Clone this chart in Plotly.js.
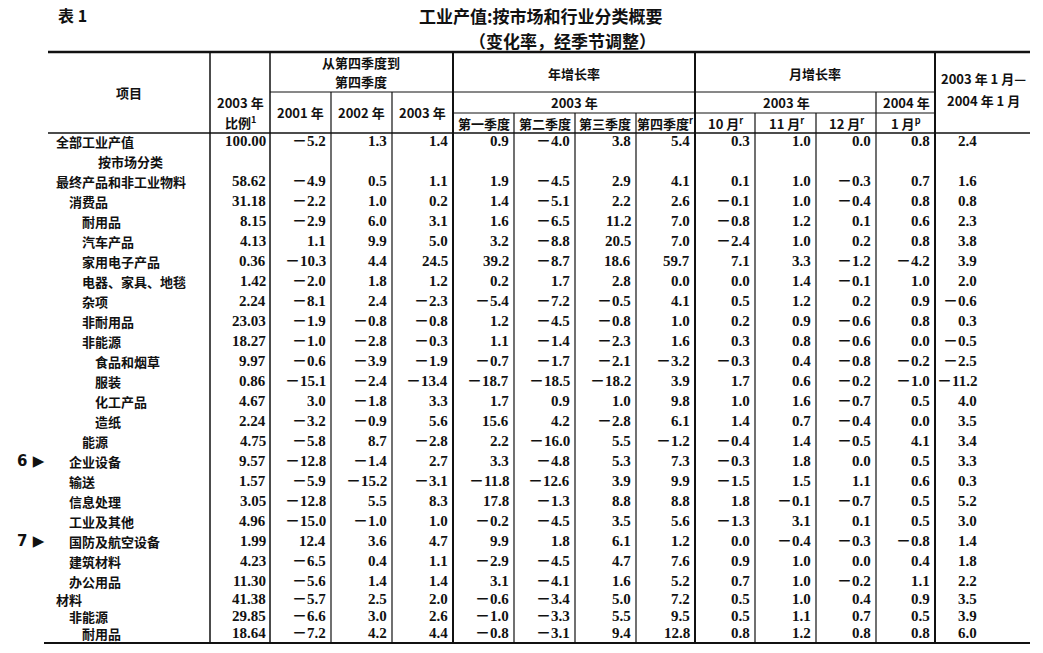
<!DOCTYPE html>
<html><head><meta charset="utf-8">
<script src="https://cdn.plot.ly/plotly-3.0.1.min.js"></script>
<style>html,body{margin:0;padding:0;background:#fff;}#chart{width:1043px;height:653px;}</style>
</head><body><div id="chart"></div>
<script>
// ---------------- DATA ----------------
const items = ["全部工业产值","按市场分类","最终产品和非工业物料","消费品","耐用品","汽车产品","家用电子产品","电器、家具、地毯","杂项","非耐用品","非能源","食品和烟草","服装","化工产品","造纸","能源","企业设备","输送","信息处理","工业及其他","国防及航空设备","建筑材料","办公用品","材料","非能源","耐用品"];
const weight2003 = [100.00,null,58.62,31.18,8.15,4.13,0.36,1.42,2.24,23.03,18.27,9.97,0.86,4.67,2.24,4.75,9.57,1.57,3.05,4.96,1.99,4.23,11.30,41.38,29.85,18.64];
const q4q4_2001 = [-5.2,null,-4.9,-2.2,-2.9,1.1,-10.3,-2.0,-8.1,-1.9,-1.0,-0.6,-15.1,3.0,-3.2,-5.8,-12.8,-5.9,-12.8,-15.0,12.4,-6.5,-5.6,-5.7,-6.6,-7.2];
const q4q4_2002 = [1.3,null,0.5,1.0,6.0,9.9,4.4,1.8,2.4,-0.8,-2.8,-3.9,-2.4,-1.8,-0.9,8.7,-1.4,-15.2,5.5,-1.0,3.6,0.4,1.4,2.5,3.0,4.2];
const q4q4_2003 = [1.4,null,1.1,0.2,3.1,5.0,24.5,1.2,-2.3,-0.8,-0.3,-1.9,-13.4,3.3,5.6,-2.8,2.7,-3.1,8.3,1.0,4.7,1.1,1.4,2.0,2.6,4.4];
const ann2003_q1 = [0.9,null,1.9,1.4,1.6,3.2,39.2,0.2,-5.4,1.2,1.1,-0.7,-18.7,1.7,15.6,2.2,3.3,-11.8,17.8,-0.2,9.9,-2.9,3.1,-0.6,-1.0,-0.8];
const ann2003_q2 = [-4.0,null,-4.5,-5.1,-6.5,-8.8,-8.7,1.7,-7.2,-4.5,-1.4,-1.7,-18.5,0.9,4.2,-16.0,-4.8,-12.6,-1.3,-4.5,1.8,-4.5,-4.1,-3.4,-3.3,-3.1];
const ann2003_q3 = [3.8,null,2.9,2.2,11.2,20.5,18.6,2.8,-0.5,-0.8,-2.3,-2.1,-18.2,1.0,-2.8,5.5,5.3,3.9,8.8,3.5,6.1,4.7,1.6,5.0,5.5,9.4];
const ann2003_q4 = [5.4,null,4.1,2.6,7.0,7.0,59.7,0.0,4.1,1.0,1.6,-3.2,3.9,9.8,6.1,-1.2,7.3,9.9,8.8,5.6,1.2,7.6,5.2,7.2,9.5,12.8];
const mon2003_oct = [0.3,null,0.1,-0.1,-0.8,-2.4,7.1,0.0,0.5,0.2,0.3,-0.3,1.7,1.0,1.4,-0.4,-0.3,-1.5,1.8,-1.3,0.0,0.9,0.7,0.5,0.5,0.8];
const mon2003_nov = [1.0,null,1.0,1.0,1.2,1.0,3.3,1.4,1.2,0.9,0.8,0.4,0.6,1.6,0.7,1.4,1.8,1.5,-0.1,3.1,-0.4,1.0,1.0,1.0,1.1,1.2];
const mon2003_dec = [0.0,null,-0.3,-0.4,0.1,0.2,-1.2,-0.1,0.2,-0.6,-0.6,-0.8,-0.2,-0.7,-0.4,-0.5,0.0,1.1,-0.7,0.1,-0.3,0.0,-0.2,0.4,0.7,0.8];
const mon2004_jan = [0.8,null,0.7,0.8,0.6,0.8,-4.2,1.0,0.9,0.8,0.0,-0.2,-1.0,0.5,0.0,4.1,0.5,0.6,0.5,0.5,-0.8,0.4,1.1,0.9,0.5,0.8];
const jan03_jan04 = [2.4,null,1.6,0.8,2.3,3.8,3.9,2.0,-0.6,0.3,-0.5,-2.5,-11.2,4.0,3.5,3.4,3.3,0.3,5.2,3.0,1.4,1.8,2.2,3.5,3.9,6.0];
const itemLevel = [0,4,0,1,2,2,2,2,2,2,2,3,3,3,3,2,1,1,1,1,1,1,1,0,1,2];
const markers = [{label:"6 ▶", row:16},{label:"7 ▶", row:20}];

// ---------------- LAYOUT ----------------
const W = 1043, H = 653;
const rowY = [141,161,181,201,221,241,261,281,301,321,341,361,381,401,421,441,461,481,501,521,541,561,581,599,616,633];
const levelX = [55,68,81,94,97];
const cjk = "Noto Sans CJK SC, sans-serif";
const numFont = "Liberation Serif, Noto Sans CJK SC, serif";
const valueCols = [
  {data: weight2003, right: 267, dec: 2},
  {data: q4q4_2001, right: 327, dec: 1},
  {data: q4q4_2002, right: 388, dec: 1},
  {data: q4q4_2003, right: 449, dec: 1},
  {data: ann2003_q1, right: 510, dec: 1},
  {data: ann2003_q2, right: 571, dec: 1},
  {data: ann2003_q3, right: 632, dec: 1},
  {data: ann2003_q4, right: 691, dec: 1},
  {data: mon2003_oct, right: 751, dec: 1},
  {data: mon2003_nov, right: 812, dec: 1},
  {data: mon2003_dec, right: 872, dec: 1},
  {data: mon2004_jan, right: 931, dec: 1},
  {data: jan03_jan04, right: 978, dec: 1}
];
function fmt(v, d){ if (v === null) return ""; const s = Math.abs(v).toFixed(d); return (v < 0 ? "－" : "") + s; }

const annotations = [];
function txt(x, y, text, opt){
  opt = opt || {};
  annotations.push({x:x, y:y, xref:"x", yref:"y", text:text, showarrow:false,
    xanchor: opt.xa || "center", yanchor:"middle", borderpad:0,
    font:{family: opt.family || cjk, size: opt.size || 13, color:"#111", weight: 700}});
}
// titles
txt(57, 15, "表 1", {xa:"left", size:16});
txt(541, 15, "工业产值:按市场和行业分类概要", {size:17});
txt(562, 40, "（变化率，经季节调整）", {size:17});
// header
txt(129, 92, "项目");
txt(240, 102, "2003 年");
txt(240, 122, "比例<sup>1</sup>");
txt(361, 62, "从第四季度到");
txt(361, 81, "第四季度");
txt(300, 112, "2001 年"); txt(361, 112, "2002 年"); txt(422, 112, "2003 年");
txt(574, 73, "年增长率");
txt(574, 102, "2003 年");
txt(484, 123, "第一季度"); txt(545, 123, "第二季度"); txt(605, 123, "第三季度"); txt(665, 123, "第四季度<sup>r</sup>");
txt(815, 73, "月增长率");
txt(786, 102, "2003 年"); txt(906, 102, "2004 年");
txt(725, 123, "10 月<sup>r</sup>"); txt(786, 123, "11 月<sup>r</sup>"); txt(846, 123, "12 月<sup>r</sup>"); txt(906, 123, "1 月<sup>p</sup>");
txt(983, 78, "2003 年 1 月—"); txt(983, 100, "2004 年 1 月");
// body labels
items.forEach((lab, i) => txt(levelX[itemLevel[i]], rowY[i], lab, {xa:"left"}));
markers.forEach(m => txt(16, rowY[m.row], m.label, {xa:"left", size:15, family:"DejaVu Sans, sans-serif"}));
// body values
valueCols.forEach(c => c.data.forEach((v, i) => {
  if (v !== null) txt(c.right, rowY[i], fmt(v, c.dec), {xa:"right", family:numFont, size:15});
}));

// rules
const shapes = [];
function ln(x0,y0,x1,y1,w){ shapes.push({type:"line", xref:"x", yref:"y", x0:x0,y0:y0,x1:x1,y1:y1, line:{color:"#111", width:w}}); }
ln(48,52,1030,52,2.5);
ln(48,133,1030,133,1.5);
ln(44,643,1030,643,2);
ln(270,92,935,92,1);
ln(453,113,935,113,1);
[210,270].forEach(x => ln(x,52,x,643,1.5));
[453,695,935].forEach(x => ln(x,52,x,643,2));
[331,392,876].forEach(x => ln(x,92,x,643,1.2));
[514,575,636,755,816].forEach(x => ln(x,113,x,643,1.2));

const layout = {
  width: W, height: H, margin:{l:0,r:0,t:0,b:0},
  paper_bgcolor:"#fff", plot_bgcolor:"#fff",
  xaxis:{range:[0,W], visible:false, fixedrange:true},
  yaxis:{range:[H,0], visible:false, fixedrange:true},
  showlegend:false, annotations: annotations, shapes: shapes
};
Plotly.newPlot("chart", [{type:"scatter", x:[], y:[], mode:"markers", hoverinfo:"skip"}], layout, {staticPlot:true, displayModeBar:false});
</script>
</body></html>
